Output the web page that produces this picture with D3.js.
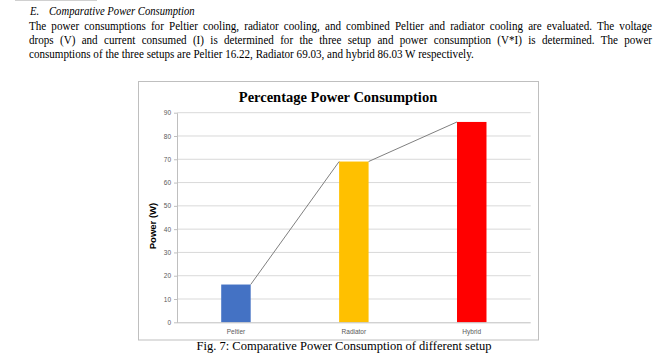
<!DOCTYPE html>
<html><head><meta charset="utf-8">
<script src="https://cdn.jsdelivr.net/npm/d3@7"></script>
<style>html,body{margin:0;padding:0;background:#fff;}svg{display:block;}</style>
</head><body>
<svg id="chart" width="669" height="360"></svg>
<script>
// ---- data ----
const categories = ["Peltier", "Radiator", "Hybrid"];
const powerValues = [16.22, 69.03, 86.03];
const barColors = ["#4472C4", "#FFC000", "#FF0000"];
const yTicks = [0, 10, 20, 30, 40, 50, 60, 70, 80, 90];
const chartTitle = "Percentage Power Consumption";
const yAxisTitle = "Power (W)";
const heading = ["E.", "Comparative Power Consumption"];
const paragraphLines = [
  "The power consumptions for Peltier cooling, radiator cooling, and combined Peltier and radiator cooling are evaluated. The voltage",
  "drops (V) and current consumed (I) is determined for the three setup and power consumption (V*I) is determined. The power",
  "consumptions of the three setups are Peltier 16.22, Radiator 69.03, and hybrid 86.03 W respectively."
];
const caption = "Fig. 7: Comparative Power Consumption of different setup";

const svg = d3.select("#chart");
const serif = "'Liberation Serif','Times New Roman',serif";
const sans = "'Liberation Sans',Arial,sans-serif";

// faint top rule
svg.append("line").attr("x1", 15).attr("x2", 97).attr("y1", 0.5).attr("y2", 0.5)
  .attr("stroke", "#d0d0d0").attr("stroke-width", 1);

// paragraph: horizontally condensed text, justified with word-spacing
const paraLeft = 29, paraWidth = 623, lastLineWidth = 445, paraFont = 13;
const probe = svg.append("text").attr("font-family", serif).attr("font-size", paraFont)
  .text(paragraphLines[paragraphLines.length - 1]);
const sx = Math.min(1, lastLineWidth / probe.node().getComputedTextLength());
probe.remove();

const txtG = svg.append("g").attr("transform", `translate(${paraLeft},0) scale(${sx},1)`);
// heading
txtG.append("text").attr("x", (30 - paraLeft) / sx).attr("y", 15).attr("font-family", serif)
  .attr("font-size", 12.5).attr("font-style", "italic").attr("fill", "#000").text(heading[0]);
txtG.append("text").attr("x", (49 - paraLeft) / sx).attr("y", 15).attr("font-family", serif)
  .attr("font-size", 12.5).attr("font-style", "italic").attr("fill", "#000").text(heading[1]);

paragraphLines.forEach((t, i) => {
  const tx = txtG.append("text").attr("x", 0).attr("y", 30.5 + i * 14)
    .attr("font-family", serif).attr("font-size", paraFont).attr("fill", "#000")
    .text(t);
  if (i < paragraphLines.length - 1) {
    const w = tx.node().getComputedTextLength();
    const spaces = (t.match(/ /g) || []).length;
    tx.attr("word-spacing", Math.max(0, (paraWidth / sx - w) / spaces));
  }
});

// chart frame
svg.append("rect").attr("x", 138.5).attr("y", 81.5).attr("width", 400).attr("height", 258.5)
  .attr("fill", "#fff").attr("stroke", "#bfbfbf").attr("stroke-width", 1);

// title
svg.append("text").attr("x", 338).attr("y", 102).attr("text-anchor", "middle")
  .attr("font-family", serif).attr("font-weight", "bold").attr("font-size", 14.5)
  .attr("fill", "#000").text(chartTitle);

// scales
const x = d3.scaleBand().domain(categories).range([177, 530.7])
  .paddingInner(0.75).paddingOuter(0.375);
const y = d3.scaleLinear().domain([0, 90]).range([322.3, 112.7]);

// gridlines
svg.append("g").selectAll("line").data(yTicks.filter(d => d > 0)).join("line")
  .attr("x1", 177).attr("x2", 530.7)
  .attr("y1", d => y(d)).attr("y2", d => y(d))
  .attr("stroke", "#d9d9d9").attr("stroke-width", 1);

// y axis
const yAxis = svg.append("g").attr("transform", "translate(177,0)")
  .call(d3.axisLeft(y).tickValues(yTicks).tickSize(3).tickSizeOuter(0).tickPadding(3));
yAxis.select(".domain").attr("stroke", "#bfbfbf");
yAxis.selectAll(".tick line").attr("stroke", "#bfbfbf");
yAxis.selectAll(".tick text").attr("font-family", sans).attr("font-size", 6.5).attr("fill", "#595959");

// bars
svg.append("g").selectAll("rect").data(categories).join("rect")
  .attr("x", d => x(d)).attr("width", x.bandwidth())
  .attr("y", (d, i) => y(powerValues[i]))
  .attr("height", (d, i) => y(0) - y(powerValues[i]))
  .attr("fill", (d, i) => barColors[i]);

// series lines (top-right of one bar to top-left of next)
const pairs = d3.pairs(categories.map((c, i) => ({ c, v: powerValues[i] })));
svg.append("g").selectAll("line").data(pairs).join("line")
  .attr("x1", d => x(d[0].c) + x.bandwidth()).attr("y1", d => y(d[0].v))
  .attr("x2", d => x(d[1].c)).attr("y2", d => y(d[1].v))
  .attr("stroke", "#808080").attr("stroke-width", 1);

// x axis
const xAxis = svg.append("g").attr("transform", `translate(0,${y(0)})`)
  .call(d3.axisBottom(x).tickSize(0).tickSizeOuter(0).tickPadding(7));
xAxis.select(".domain").attr("stroke", "#bfbfbf").attr("d", "M177,0.5H530.7");
xAxis.selectAll(".tick text").attr("font-family", sans).attr("font-size", 6.5).attr("fill", "#595959");

// y title
svg.append("text").attr("transform", "translate(156,226) rotate(-90)")
  .attr("text-anchor", "middle").attr("font-family", sans).attr("font-weight", "bold")
  .attr("font-size", 9.5).attr("fill", "#000").text(yAxisTitle);

// caption
svg.append("text").attr("x", 344).attr("y", 350).attr("text-anchor", "middle")
  .attr("font-family", serif).attr("font-size", 12.5).attr("fill", "#000").text(caption);
</script>
</body></html>
